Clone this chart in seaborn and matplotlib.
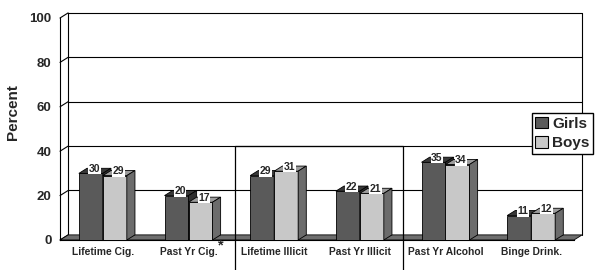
import numpy as np
import pandas as pd
import matplotlib
matplotlib.use('Agg')
import matplotlib.pyplot as plt
from matplotlib.patches import Polygon, Patch
import seaborn as sns

# data
categories = ['Lifetime Cig.', 'Past Yr Cig.', 'Lifetime Illicit',
              'Past Yr Illicit', 'Past Yr Alcohol', 'Binge Drink.']
groups = ['Girls', 'Boys']
girls = [30, 20, 29, 22, 35, 11]
boys = [29, 17, 31, 21, 34, 12]
y_ticks = [0, 20, 40, 60, 80, 100]

front_colors = ['#5a5a5a', '#c8c8c8']
top_colors = ['#383838', '#9c9c9c']
side_colors = ['#2e2e2e', '#6c6c6c']
floor_color = '#6e6e6e'

DX, DY = 0.095, 2.3   # depth of the 3-D look, in data units

df = pd.DataFrame({
    'category': categories * 2,
    'group': np.repeat(groups, len(categories)),
    'value': girls + boys,
})

sns.set_style('white')
plt.rcParams['font.family'] = ['Liberation Sans', 'DejaVu Sans']

fig = plt.figure(figsize=(5.98, 2.70), dpi=100)
ax = fig.add_axes([60 / 598, 30 / 270, 514 / 598, 222 / 270])

sns.barplot(data=df, x='category', y='value', hue='group', order=categories,
            hue_order=groups, palette=front_colors, width=0.56,
            edgecolor='black', linewidth=0.6, legend=False, ax=ax)

ax.set_xlim(-0.5, 5.5)
ax.set_ylim(0, 100)

# floor slab
ax.add_patch(Polygon([(-0.5, 0), (5.5, 0), (5.5 + DX, DY), (-0.5 + DX, DY)],
                     closed=True, fc=floor_color, ec='black', lw=0.6,
                     zorder=1.5, clip_on=False))

# back wall and left wall lines
kw = dict(color='black', lw=0.8, zorder=1, clip_on=False)
for v in y_ticks[1:]:
    ax.plot([-0.5 + DX, 5.5 + DX], [v + DY, v + DY], **kw)
for v in y_ticks:
    ax.plot([-0.5, -0.5 + DX], [v, v + DY], **kw)
ax.plot([-0.5 + DX, -0.5 + DX], [DY, 100 + DY], **kw)
ax.plot([5.5 + DX, 5.5 + DX], [DY, 100 + DY], **kw)

# 3-D faces and value labels
for k, cont in enumerate(ax.containers):
    for bar in cont:
        x0, w, h = bar.get_x(), bar.get_width(), bar.get_height()
        bar.set_zorder(3 + k)
        ax.add_patch(Polygon([(x0, h), (x0 + w, h), (x0 + w + DX, h + DY), (x0 + DX, h + DY)],
                             closed=True, fc=top_colors[k], ec='black', lw=0.6, zorder=3 + k))
        ax.add_patch(Polygon([(x0 + w, 0), (x0 + w + DX, DY), (x0 + w + DX, h + DY), (x0 + w, h)],
                             closed=True, fc=side_colors[k], ec='black', lw=0.6, zorder=3 + k))
        ax.text(x0 + w / 2 + 0.04, h + 2.0, f'{h:.0f}', ha='center', va='center',
                fontsize=7.5, fontweight='bold', zorder=6,
                bbox=dict(fc='white', ec='none', pad=0.4))

# highlight box around the illicit-drug pair
ax.plot([1.545, 1.545, 3.507, 3.507], [-20, 42.3, 42.3, -20],
        color='black', lw=0.9, zorder=2.5, clip_on=False)

# significance marker
ax.text(1.375, -2.6, '*', ha='center', va='center', fontsize=10.5,
        fontweight='bold', clip_on=False)

for s in ['top', 'right']:
    ax.spines[s].set_visible(False)
for s in ['left', 'bottom']:
    ax.spines[s].set_color('black')
    ax.spines[s].set_linewidth(0.8)

ax.set_yticks(y_ticks)
ax.set_yticklabels([str(v) for v in y_ticks], fontsize=9.5, fontweight='bold')
ax.tick_params(axis='y', direction='out', length=3, width=0.8, pad=3)
ax.set_xticks(range(len(categories)))
ax.set_xticklabels(categories, fontsize=7.4, fontweight='bold')
ax.set_xticks(np.arange(0.5, 6, 1), minor=True)
ax.tick_params(axis='x', which='major', length=0, pad=5)
ax.tick_params(axis='x', which='minor', direction='out', length=4, width=0.8)
ax.set_xlabel('')
ax.set_ylabel('Percent', fontsize=11, fontweight='bold')
ax.yaxis.set_label_coords(-0.078, 0.577)

handles = [Patch(fc=front_colors[i], ec='black', lw=0.8, label=g) for i, g in enumerate(groups)]
fig.legend(handles=handles, loc='upper left', bbox_to_anchor=(0.889, 0.582),
           frameon=True, fancybox=False, edgecolor='black', framealpha=1,
           prop={'weight': 'bold', 'size': 11}, handlelength=0.8,
           handleheight=0.8, handletextpad=0.3, borderpad=0.25,
           labelspacing=0.35, borderaxespad=0)

fig.savefig('out.png', dpi=100)
